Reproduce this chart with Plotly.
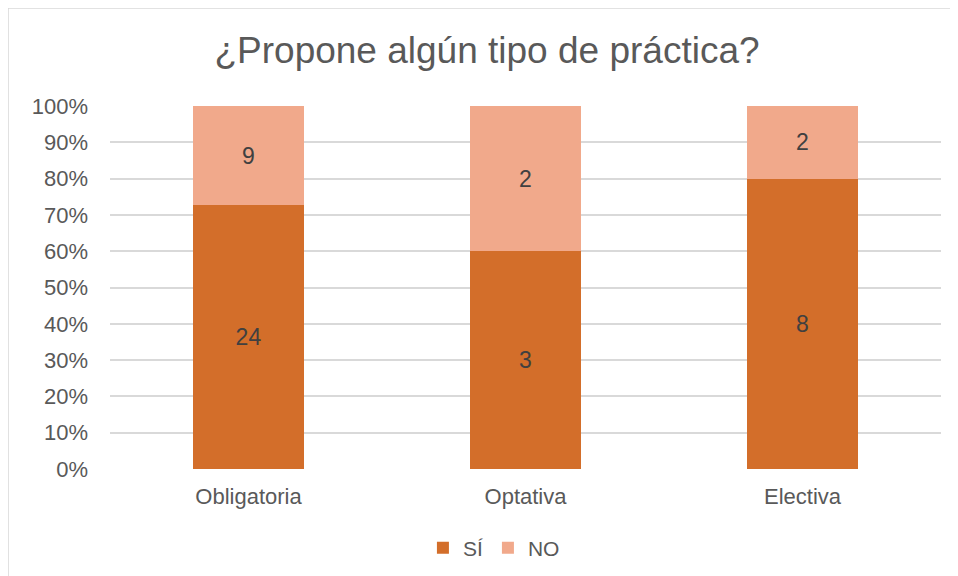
import plotly.graph_objects as go

# ── Data ──────────────────────────────────────────────────────────────────────
categories = ["Obligatoria", "Optativa", "Electiva"]
si_values = [24, 3, 8]
no_values = [9, 2, 2]
y_ticks = list(range(0, 101, 10))
y_tick_labels = [f"{v}%" for v in y_ticks]

COLORS = {
    "si": "#D36E2A",
    "no": "#F1A98B",
    "text": "#595959",
    "label": "#404040",
    "grid": "#D9D9D9",
}
FONT = "Liberation Sans, Arial, sans-serif"

fig = go.Figure()
fig.add_trace(go.Bar(
    name="SÍ", x=categories, y=si_values, text=si_values,
    marker_color=COLORS["si"], width=0.4,
))
fig.add_trace(go.Bar(
    name="NO", x=categories, y=no_values, text=no_values,
    marker_color=COLORS["no"], width=0.4,
))
fig.update_traces(
    textposition="inside", insidetextanchor="middle",
    textfont=dict(size=23, color=COLORS["label"], family=FONT),
    marker_line_width=0,
)

# page body adds an 8px offset, margins below compensate for it
fig.update_layout(
    barmode="stack",
    barnorm="percent",
    width=958, height=576,
    margin=dict(l=102, r=25, t=98, b=115),
    paper_bgcolor="white",
    plot_bgcolor="white",
    font=dict(family=FONT, color=COLORS["text"]),
    title=dict(
        text="¿Propone algún tipo de práctica?",
        x=0.5, xanchor="center", y=0.927, yanchor="middle",
        font=dict(size=37, color=COLORS["text"], family=FONT),
    ),
    showlegend=True,
    legend=dict(
        orientation="h", x=0.462, xanchor="center", y=-0.218, yanchor="middle",
        font=dict(size=21, color=COLORS["text"]),
        traceorder="normal", itemwidth=30,
    ),
    xaxis=dict(
        showgrid=False, showline=False, ticks="",
        tickfont=dict(size=22, color=COLORS["text"]),
        ticklabelstandoff=12,
    ),
    yaxis=dict(
        range=[0, 100], tickmode="array",
        tickvals=y_ticks, ticktext=y_tick_labels,
        showgrid=True, gridcolor=COLORS["grid"], gridwidth=1.5,
        zeroline=False, showline=False, ticks="",
        tickfont=dict(size=22, color=COLORS["text"]),
        ticklabelstandoff=21,
    ),
    shapes=[dict(
        type="rect", xref="paper", yref="paper",
        x0=-0.1227, x1=1.05, y0=-0.35, y1=1.27,
        line=dict(color="#D9D9D9", width=1.5),
        fillcolor="rgba(0,0,0,0)", layer="below",
    )],
)

fig.write_html("out.html")
